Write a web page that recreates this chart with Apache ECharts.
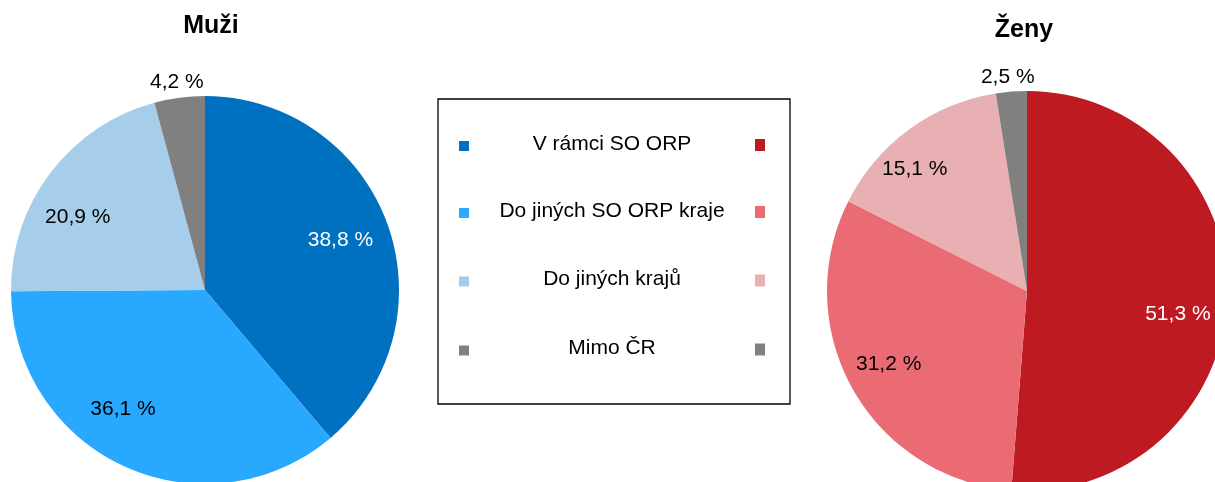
<!DOCTYPE html>
<html>
<head>
<meta charset="utf-8">
<script src="https://cdn.jsdelivr.net/npm/echarts@6/dist/echarts.min.js"></script>
<style>
html,body{margin:0;padding:0;background:#fff;}
#chart{width:1215px;height:482px;}
</style>
</head>
<body>
<div id="chart"></div>
<script>
// ---- data ----
const categories = ['V rámci SO ORP', 'Do jiných SO ORP kraje', 'Do jiných krajů', 'Mimo ČR'];
const muziValues = [38.8, 36.1, 20.9, 4.2];
const zenyValues = [51.3, 31.2, 15.1, 2.5];
const pieTitles = ['Muži', 'Ženy'];

// ---- styles / layout ----
const muziColors = ['#0070C0', '#29A8FF', '#A6CDE9', '#808080'];
const zenyColors = ['#BE1A22', '#EA6B73', '#E8B0B3', '#808080'];
const FONT = '"Liberation Sans", Arial, sans-serif';
const MUZI = { cx: 205, cy: 290, r: 194, titleX: 211, titleY: 26, nudge: [[-4, 1], [-20, -16], [-9, 17], [0, 4]] };
const ZENY = { cx: 1027, cy: 291, r: 200, titleX: 1024, titleY: 30, nudge: [[-2, 17], [-5, -2], [-22, 2], [-2, 6]] };
const SMALL = 5; // slices below this share get their label outside

const fmt = v => v.toFixed(1).replace('.', ',') + ' %';

function pieSeries(values, colors, geo) {
  const base = {
    type: 'pie',
    center: [geo.cx, geo.cy],
    startAngle: 90,
    clockwise: true,
    animation: false,
    avoidLabelOverlap: false,
    labelLine: { show: false },
    emphasis: { disabled: true }
  };
  const main = Object.assign({}, base, {
    radius: geo.r,
    label: { show: false },
    data: values.map((v, i) => ({ name: categories[i], value: v, itemStyle: { color: colors[i] } }))
  });
  const lbl = (show, i) => ({
    show: show,
    position: 'inside',
    formatter: p => fmt(p.value),
    color: i === 0 ? '#ffffff' : '#000000',
    fontFamily: FONT,
    fontSize: 21,
    textBorderWidth: 0
  });
  const layout = p => ({ dx: geo.nudge[p.dataIndex][0], dy: geo.nudge[p.dataIndex][1] });
  const inner = Object.assign({}, base, {
    radius: [geo.r * 0.5, geo.r],
    silent: true,
    labelLayout: layout,
    data: values.map((v, i) => ({
      name: categories[i], value: v,
      itemStyle: { color: 'rgba(0,0,0,0)' },
      label: lbl(v >= SMALL, i)
    }))
  });
  const outer = Object.assign({}, base, {
    radius: [geo.r - 10, geo.r + 44],
    silent: true,
    labelLayout: layout,
    data: values.map((v, i) => ({
      name: categories[i], value: v,
      itemStyle: { color: 'rgba(0,0,0,0)' },
      label: lbl(v < SMALL, i)
    }))
  });
  return [main, inner, outer];
}

// ---- legend box (graphic) ----
const LEG = { x: 438, y: 99, w: 352, h: 305, leftIconX: 459, rightIconX: 755, textX: 612, rowY: [146, 213, 281.5, 350.5] };
const graphics = [];
graphics.push({
  type: 'rect', shape: { x: LEG.x, y: LEG.y, width: LEG.w, height: LEG.h },
  style: { fill: '#fff', stroke: '#000', lineWidth: 1.3 }, z: 1
});
categories.forEach((c, i) => {
  const y = LEG.rowY[i];
  graphics.push({ type: 'rect', shape: { x: LEG.leftIconX, y: y - 5, width: 10, height: 10 }, style: { fill: muziColors[i] }, z: 2 });
  graphics.push({ type: 'rect', shape: { x: LEG.rightIconX, y: y - 7, width: 10, height: 12 }, style: { fill: zenyColors[i] }, z: 2 });
  graphics.push({ type: 'text', x: LEG.textX, y: y - 2, style: { text: c, fill: '#000', font: '21px ' + FONT, textAlign: 'center', textVerticalAlign: 'middle' }, z: 2 });
});
[MUZI, ZENY].forEach((g, i) => {
  graphics.push({ type: 'text', x: g.titleX, y: g.titleY, style: { text: pieTitles[i], fill: '#000', font: 'bold 25px ' + FONT, textAlign: 'center', textVerticalAlign: 'middle' }, z: 2 });
});

const chart = echarts.init(document.getElementById('chart'), null, { renderer: 'canvas' });
chart.setOption({
  backgroundColor: '#ffffff',
  animation: false,
  graphic: graphics,
  series: [].concat(pieSeries(muziValues, muziColors, MUZI), pieSeries(zenyValues, zenyColors, ZENY))
});
</script>
</body>
</html>
